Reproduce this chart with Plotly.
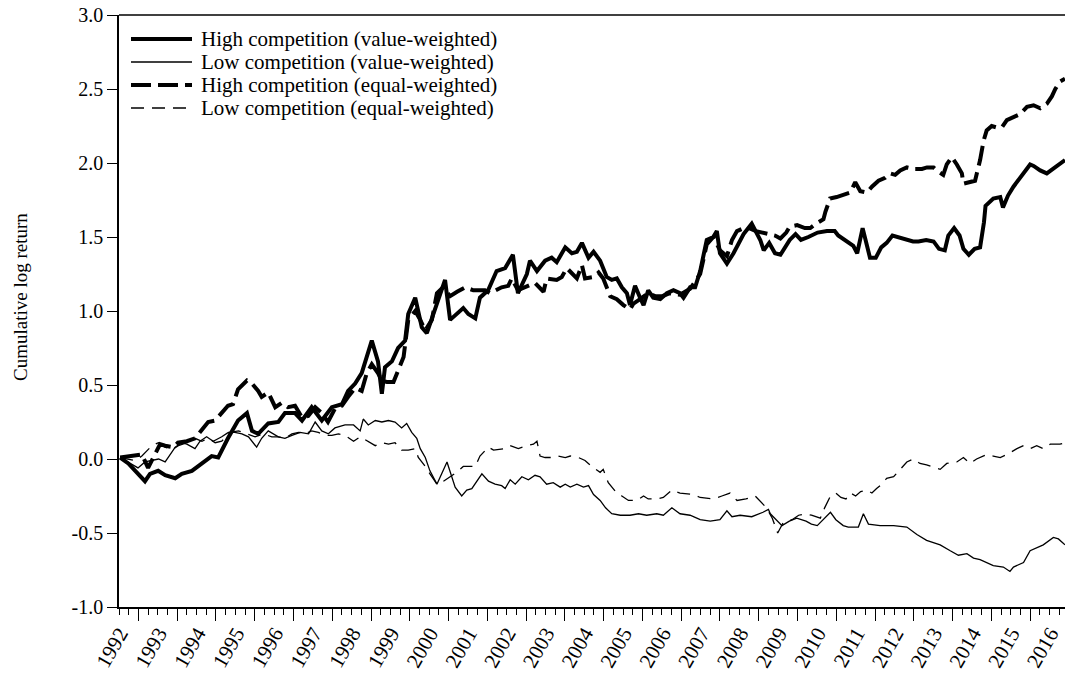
import plotly.graph_objects as go

# ---------------- data (decimal years, cumulative log returns) ----------------
years = list(range(1992, 2017))
y_ticks = [-1.0, -0.5, 0.0, 0.5, 1.0, 1.5, 2.0, 2.5, 3.0]
y_labels = ["-1.0", "-0.5", "0.0", "0.5", "1.0", "1.5", "2.0", "2.5", "3.0"]

names = ["High competition (value-weighted)", "Low competition (value-weighted)",
         "High competition (equal-weighted)", "Low competition (equal-weighted)"]

hv_t = [1992.53, 1992.74, 1993.17, 1993.30, 1993.51, 1993.69, 1993.95, 1994.12, 1994.38, 1994.64,
        1994.89, 1995.06, 1995.31, 1995.57, 1995.80, 1995.93, 1996.09, 1996.35, 1996.61, 1996.78,
        1997.04, 1997.22, 1997.47, 1997.73, 1997.99, 1998.25, 1998.41, 1998.59, 1998.76, 1999.02,
        1999.18, 1999.28, 1999.36, 1999.54, 1999.70, 1999.88, 1999.96, 2000.14, 2000.31, 2000.44,
        2000.65, 2000.91, 2001.04, 2001.21, 2001.38, 2001.51, 2001.69, 2001.81, 2002.02, 2002.24,
        2002.46, 2002.66, 2002.79, 2003.02, 2003.10, 2003.28, 2003.49, 2003.66, 2003.79, 2004.01,
        2004.18, 2004.31, 2004.44, 2004.61, 2004.74, 2004.91, 2005.08, 2005.21, 2005.34, 2005.47,
        2005.60, 2005.68, 2005.81, 2005.94, 2006.03, 2006.15, 2006.28, 2006.46, 2006.63, 2006.80,
        2006.97, 2007.06, 2007.23, 2007.36, 2007.49, 2007.66, 2007.83, 2007.92, 2008.00, 2008.18,
        2008.35, 2008.61, 2008.82, 2009.04, 2009.13, 2009.27, 2009.42, 2009.56, 2009.80, 2009.95,
        2010.09, 2010.28, 2010.52, 2010.76, 2010.96, 2011.05, 2011.29, 2011.44, 2011.54, 2011.68,
        2011.87, 2012.02, 2012.16, 2012.30, 2012.45, 2012.59, 2012.79, 2012.98, 2013.12, 2013.32,
        2013.51, 2013.65, 2013.80, 2013.89, 2014.04, 2014.18, 2014.28, 2014.42, 2014.57, 2014.71,
        2014.81, 2014.85, 2015.05, 2015.23, 2015.30, 2015.43, 2015.57, 2015.74, 2015.92, 2016.00,
        2016.09, 2016.26, 2016.43, 2016.60, 2016.77, 2016.90]
hv_v = [0.01, -0.03, -0.15, -0.10, -0.08, -0.11, -0.13, -0.10, -0.08, -0.03,
        0.02, 0.01, 0.14, 0.26, 0.31, 0.19, 0.17, 0.24, 0.25, 0.31,
        0.31, 0.26, 0.35, 0.26, 0.35, 0.37, 0.46, 0.51, 0.58, 0.80,
        0.66, 0.44, 0.62, 0.66, 0.75, 0.80, 0.98, 1.09, 0.89, 0.85,
        1.02, 1.21, 0.94, 0.98, 1.02, 0.98, 0.95, 1.09, 1.14, 1.27,
        1.29, 1.38, 1.12, 1.25, 1.34, 1.27, 1.34, 1.36, 1.33, 1.43,
        1.39, 1.40, 1.46, 1.36, 1.40, 1.34, 1.23, 1.21, 1.22, 1.16,
        1.12, 1.04, 1.17, 1.09, 1.04, 1.14, 1.09, 1.08, 1.12, 1.14,
        1.12, 1.09, 1.16, 1.16, 1.27, 1.48, 1.50, 1.54, 1.39, 1.32,
        1.39, 1.52, 1.59, 1.48, 1.41, 1.46, 1.39, 1.38, 1.48, 1.52,
        1.48, 1.50, 1.53, 1.54, 1.54, 1.51, 1.47, 1.44, 1.39, 1.56,
        1.36, 1.36, 1.43, 1.46, 1.51, 1.50, 1.48, 1.47, 1.47, 1.48,
        1.47, 1.42, 1.41, 1.51, 1.56, 1.51, 1.42, 1.38, 1.42, 1.43,
        1.60, 1.71, 1.76, 1.77, 1.70, 1.78, 1.84, 1.90, 1.97, 1.99,
        1.98, 1.95, 1.93, 1.96, 1.99, 2.02]

lv_t = [1992.53, 1992.73, 1992.99, 1993.17, 1993.35, 1993.52, 1993.69, 1993.82, 1993.95, 1994.12,
        1994.25, 1994.46, 1994.59, 1994.76, 1994.93, 1995.15, 1995.32, 1995.49, 1995.67, 1995.84,
        1996.05, 1996.18, 1996.35, 1996.61, 1996.78, 1996.96, 1997.17, 1997.39, 1997.56, 1997.73,
        1997.90, 1998.07, 1998.33, 1998.55, 1998.72, 1998.80, 1998.93, 1999.11, 1999.28, 1999.45,
        1999.62, 1999.79, 1999.92, 2000.05, 2000.18, 2000.27, 2000.40, 2000.52, 2000.70, 2000.96,
        2001.08, 2001.17, 2001.34, 2001.47, 2001.60, 2001.73, 2001.86, 2002.03, 2002.20, 2002.37,
        2002.46, 2002.59, 2002.72, 2002.89, 2003.06, 2003.23, 2003.36, 2003.53, 2003.70, 2003.88,
        2004.01, 2004.14, 2004.31, 2004.48, 2004.61, 2004.74, 2004.91, 2005.05, 2005.21, 2005.43,
        2005.68, 2005.90, 2006.11, 2006.37, 2006.54, 2006.76, 2006.97, 2007.23, 2007.49, 2007.75,
        2008.00, 2008.18, 2008.31, 2008.52, 2008.82, 2009.11, 2009.25, 2009.30, 2009.60, 2009.79,
        2009.98, 2010.22, 2010.36, 2010.51, 2010.85, 2010.99, 2011.18, 2011.31, 2011.57, 2011.70,
        2011.83, 2012.13, 2012.48, 2012.82, 2013.08, 2013.33, 2013.68, 2013.94, 2014.15, 2014.37,
        2014.54, 2014.71, 2015.05, 2015.31, 2015.48, 2015.57, 2015.83, 2016.00, 2016.17, 2016.34,
        2016.60, 2016.73, 2016.90]
lv_v = [0.01, -0.02, -0.06, -0.02, -0.01, 0.00, -0.02, 0.03, 0.08, 0.11,
        0.10, 0.07, 0.12, 0.15, 0.12, 0.15, 0.18, 0.18, 0.17, 0.15,
        0.08, 0.14, 0.19, 0.15, 0.14, 0.16, 0.18, 0.17, 0.25, 0.19,
        0.17, 0.21, 0.23, 0.23, 0.19, 0.27, 0.23, 0.26, 0.25, 0.26,
        0.25, 0.21, 0.24, 0.18, 0.14, 0.07, 0.01, -0.08, -0.17, -0.02,
        -0.12, -0.19, -0.25, -0.21, -0.20, -0.15, -0.10, -0.15, -0.17, -0.18,
        -0.20, -0.14, -0.17, -0.12, -0.14, -0.11, -0.12, -0.17, -0.16, -0.19,
        -0.17, -0.19, -0.17, -0.19, -0.18, -0.24, -0.28, -0.33, -0.37, -0.38,
        -0.38, -0.37, -0.38, -0.37, -0.38, -0.33, -0.37, -0.38, -0.41, -0.42,
        -0.41, -0.35, -0.39, -0.38, -0.39, -0.36, -0.34, -0.37, -0.45, -0.42,
        -0.40, -0.42, -0.44, -0.45, -0.36, -0.41, -0.45, -0.46, -0.46, -0.37,
        -0.44, -0.45, -0.45, -0.46, -0.51, -0.55, -0.58, -0.62, -0.65, -0.64,
        -0.67, -0.68, -0.72, -0.73, -0.76, -0.73, -0.70, -0.62, -0.60, -0.58,
        -0.53, -0.54, -0.58]

he_t = [1992.53, 1993.09, 1993.25, 1993.43, 1993.56, 1993.69, 1993.90, 1994.02, 1994.25, 1994.46,
        1994.59, 1994.80, 1994.98, 1995.15, 1995.31, 1995.44, 1995.57, 1995.80, 1995.93, 1996.09,
        1996.18, 1996.35, 1996.53, 1996.70, 1996.86, 1997.04, 1997.22, 1997.38, 1997.56, 1997.73,
        1997.89, 1998.07, 1998.25, 1998.41, 1998.59, 1998.76, 1998.89, 1999.02, 1999.18, 1999.28,
        1999.41, 1999.58, 1999.71, 1999.84, 1999.96, 2000.14, 2000.27, 2000.40, 2000.57, 2000.70,
        2000.86, 2001.04, 2001.22, 2001.43, 2001.64, 2001.94, 2002.07, 2002.37, 2002.54, 2002.63,
        2002.79, 2003.02, 2003.23, 2003.45, 2003.53, 2003.79, 2003.92, 2004.05, 2004.22, 2004.31,
        2004.44, 2004.52, 2004.74, 2004.87, 2004.99, 2005.08, 2005.17, 2005.34, 2005.51, 2005.68,
        2005.77, 2005.94, 2006.15, 2006.33, 2006.51, 2006.71, 2006.97, 2007.23, 2007.49, 2007.66,
        2007.83, 2008.00, 2008.18, 2008.31, 2008.44, 2008.61, 2008.75, 2008.93, 2009.22, 2009.42,
        2009.56, 2009.71, 2009.80, 2009.99, 2010.19, 2010.33, 2010.48, 2010.67, 2010.72, 2010.81,
        2010.84, 2011.01, 2011.36, 2011.49, 2011.62, 2011.79, 2011.92, 2012.09, 2012.26, 2012.39,
        2012.52, 2012.65, 2012.82, 2012.99, 2013.21, 2013.34, 2013.51, 2013.59, 2013.76, 2013.85,
        2013.98, 2014.11, 2014.24, 2014.28, 2014.45, 2014.58, 2014.71, 2014.80, 2014.88, 2015.01,
        2015.14, 2015.27, 2015.40, 2015.57, 2015.74, 2015.92, 2016.09, 2016.26, 2016.43, 2016.56,
        2016.65, 2016.77, 2016.90]
he_v = [0.01, 0.03, -0.06, 0.04, 0.10, 0.09, 0.08, 0.11, 0.12, 0.14,
        0.18, 0.25, 0.26, 0.31, 0.36, 0.37, 0.47, 0.53, 0.51, 0.46,
        0.42, 0.45, 0.35, 0.38, 0.35, 0.36, 0.28, 0.29, 0.35, 0.31,
        0.25, 0.34, 0.36, 0.42, 0.48, 0.46, 0.58, 0.64, 0.58, 0.53,
        0.52, 0.52, 0.60, 0.69, 0.94, 1.00, 0.94, 0.87, 0.94, 1.12,
        1.16, 1.10, 1.13, 1.16, 1.14, 1.14, 1.12, 1.16, 1.17, 1.22,
        1.14, 1.17, 1.19, 1.13, 1.22, 1.21, 1.23, 1.29, 1.25, 1.22,
        1.31, 1.22, 1.23, 1.26, 1.22, 1.15, 1.10, 1.08, 1.04, 1.01,
        1.05, 1.08, 1.12, 1.10, 1.10, 1.12, 1.11, 1.15, 1.25, 1.45,
        1.50, 1.41, 1.37, 1.48, 1.54, 1.56, 1.56, 1.54, 1.52, 1.51,
        1.49, 1.53, 1.57, 1.58, 1.56, 1.56, 1.59, 1.62, 1.67, 1.73,
        1.76, 1.77, 1.80, 1.87, 1.81, 1.80, 1.84, 1.88, 1.90, 1.93,
        1.92, 1.95, 1.97, 1.96, 1.96, 1.97, 1.97, 1.95, 1.92, 1.99,
        2.04, 1.99, 1.93, 1.86, 1.87, 1.88, 2.02, 2.15, 2.22, 2.25,
        2.24, 2.24, 2.29, 2.31, 2.33, 2.38, 2.39, 2.37, 2.40, 2.45,
        2.50, 2.55, 2.57]

le_t = [1992.53, 1992.92, 1993.09, 1993.35, 1993.52, 1993.69, 1993.86, 1994.03, 1994.25, 1994.46,
        1994.64, 1994.81, 1994.98, 1995.15, 1995.37, 1995.58, 1995.80, 1996.01, 1996.22, 1996.44,
        1996.61, 1996.78, 1996.96, 1997.13, 1997.30, 1997.47, 1997.64, 1997.82, 1997.99, 1998.16,
        1998.33, 1998.55, 1998.72, 1998.93, 1999.11, 1999.28, 1999.45, 1999.62, 1999.79, 1999.96,
        2000.14, 2000.22, 2000.40, 2000.52, 2000.70, 2000.87, 2001.21, 2001.38, 2001.69, 2001.81,
        2002.03, 2002.16, 2002.46, 2002.59, 2002.80, 2003.02, 2003.19, 2003.28, 2003.36, 2003.49,
        2003.70, 2003.83, 2004.01, 2004.14, 2004.35, 2004.52, 2004.74, 2004.91, 2004.99, 2005.12,
        2005.34, 2005.47, 2005.64, 2005.86, 2006.03, 2006.15, 2006.37, 2006.54, 2006.76, 2006.97,
        2007.32, 2007.49, 2007.83, 2008.05, 2008.26, 2008.44, 2008.67, 2008.91, 2009.01, 2009.20,
        2009.35, 2009.49, 2009.63, 2009.86, 2010.03, 2010.20, 2010.36, 2010.59, 2010.70, 2010.85,
        2010.99, 2011.12, 2011.25, 2011.37, 2011.50, 2011.63, 2011.79, 2011.92, 2012.04, 2012.22,
        2012.30, 2012.48, 2012.65, 2012.82, 2012.99, 2013.16, 2013.33, 2013.59, 2013.68, 2013.85,
        2014.11, 2014.28, 2014.45, 2014.62, 2014.88, 2015.05, 2015.23, 2015.40, 2015.66, 2015.83,
        2016.00, 2016.17, 2016.34, 2016.52, 2016.77, 2016.90]
le_v = [0.01, -0.01, 0.02, 0.09, 0.11, 0.08, 0.06, 0.09, 0.11, 0.14,
        0.12, 0.14, 0.11, 0.12, 0.18, 0.19, 0.17, 0.15, 0.17, 0.15,
        0.15, 0.14, 0.17, 0.18, 0.17, 0.19, 0.18, 0.16, 0.16, 0.17,
        0.16, 0.12, 0.15, 0.12, 0.09, 0.11, 0.10, 0.11, 0.06, 0.06,
        0.07, 0.01, -0.05, -0.10, -0.17, -0.15, -0.09, -0.05, -0.05, 0.02,
        0.08, 0.06, 0.07, 0.09, 0.07, 0.09, 0.10, 0.12, 0.02, 0.01,
        0.01, 0.02, 0.01, 0.02, 0.01, -0.01, -0.06, -0.09, -0.07, -0.16,
        -0.23, -0.25, -0.28, -0.28, -0.25, -0.27, -0.27, -0.26, -0.21, -0.23,
        -0.24, -0.26, -0.27, -0.25, -0.23, -0.28, -0.27, -0.25, -0.28, -0.33,
        -0.40, -0.50, -0.43, -0.41, -0.38, -0.37, -0.38, -0.40, -0.33, -0.25,
        -0.23, -0.26, -0.27, -0.23, -0.25, -0.22, -0.21, -0.23, -0.20, -0.16,
        -0.13, -0.12, -0.07, -0.02, 0.00, -0.03, -0.04, -0.06, -0.07, -0.03,
        -0.02, 0.01, -0.03, 0.00, 0.03, 0.02, 0.01, 0.03, 0.07, 0.09,
        0.07, 0.09, 0.07, 0.10, 0.10, 0.11]

# ---------------- figure ----------------
W, H = 1065, 675
L, R, T, B = 119, 0, 15, 68
FONT = "Liberation Serif, Times New Roman, serif"

styles = [dict(width=4.0, dash="solid"),
          dict(width=1.3, dash="solid"),
          dict(width=4.0, dash="20px,7px"),
          dict(width=1.3, dash="13px,8px")]
data = [(hv_t, hv_v), (lv_t, lv_v), (he_t, he_v), (le_t, le_v)]

fig = go.Figure()
for name, (t, v), st in zip(names, data, styles):
    fig.add_trace(go.Scatter(x=t, y=v, mode="lines", name=name, showlegend=False,
                             line=dict(color="black", width=st["width"], dash=st["dash"])))

# invisible helper trace for the label axis
LABEL_SHIFT = 0.52
fig.add_trace(go.Scatter(x=[years[0] + LABEL_SHIFT], y=[0], xaxis="x2", mode="markers",
                         marker=dict(opacity=0), showlegend=False, hoverinfo="skip"))

xr = [1992.5, 2016.9]
fig.update_layout(
    width=W, height=H,
    margin=dict(l=L, r=R, t=T, b=B, autoexpand=False),
    paper_bgcolor="white", plot_bgcolor="white",
    font=dict(family=FONT, color="black", size=20),
    xaxis=dict(range=xr, tick0=1993, dtick=1, ticks="outside", ticklen=12, tickwidth=1,
               tickcolor="black", showticklabels=False, showline=True, linecolor="black",
               linewidth=1.5, showgrid=False, zeroline=False,
               minor=dict(tick0=1992.5, dtick=0.25, ticks="outside", ticklen=6, tickwidth=1,
                          tickcolor="black", showgrid=False)),
    xaxis2=dict(range=xr, overlaying="x", anchor="y", side="bottom",
                tickmode="array", tickvals=[yy + LABEL_SHIFT for yy in years],
                ticktext=[str(yy) for yy in years], tickangle=-60,
                ticks="outside", ticklen=5, tickcolor="rgba(0,0,0,0)",
                ticklabeloverflow="allow",
                showline=False, showgrid=False, zeroline=False,
                tickfont=dict(family=FONT, size=21, color="black")),
    yaxis=dict(range=[-1, 3], tickmode="array", tickvals=y_ticks, ticktext=y_labels,
               ticks="outside", ticklen=10, tickwidth=1, tickcolor="black",
               showline=True, linecolor="black", linewidth=1.5, showgrid=False,
               zeroline=False, tickfont=dict(family=FONT, size=20, color="black")),
)

# top frame line
fig.add_shape(type="line", xref="paper", yref="paper", x0=0, x1=1, y0=1, y1=1,
              line=dict(color="black", width=1.5))

plot_h = H - T - B
plot_w = W - L - R
def px_to_paper(px, py):
    return (px - L) / plot_w, (H - B - py) / plot_h

# y axis title
tx, ty = px_to_paper(20, 297)
fig.add_annotation(text="Cumulative log return", xref="paper", yref="paper", x=tx, y=ty,
                   textangle=-90, showarrow=False, xanchor="center", yanchor="middle",
                   font=dict(family=FONT, size=19, color="black"))

# legend (drawn manually to match the sample length)
row_y = [39, 62, 85, 108]
for name, st, ry in zip(names, styles, row_y):
    x0, yy = px_to_paper(131, ry)
    x1, _ = px_to_paper(192, ry)
    fig.add_shape(type="line", xref="paper", yref="paper", x0=x0, x1=x1, y0=yy, y1=yy,
                  line=dict(color="black", width=st["width"], dash=st["dash"]))
    xt, _ = px_to_paper(199, ry)
    fig.add_annotation(text=name, xref="paper", yref="paper", x=xt, y=yy, showarrow=False,
                       xanchor="left", yanchor="middle",
                       font=dict(family=FONT, size=21, color="black"))

fig.write_html("out.html", config={"displayModeBar": False},
               post_script="document.body.style.margin='0px';")
